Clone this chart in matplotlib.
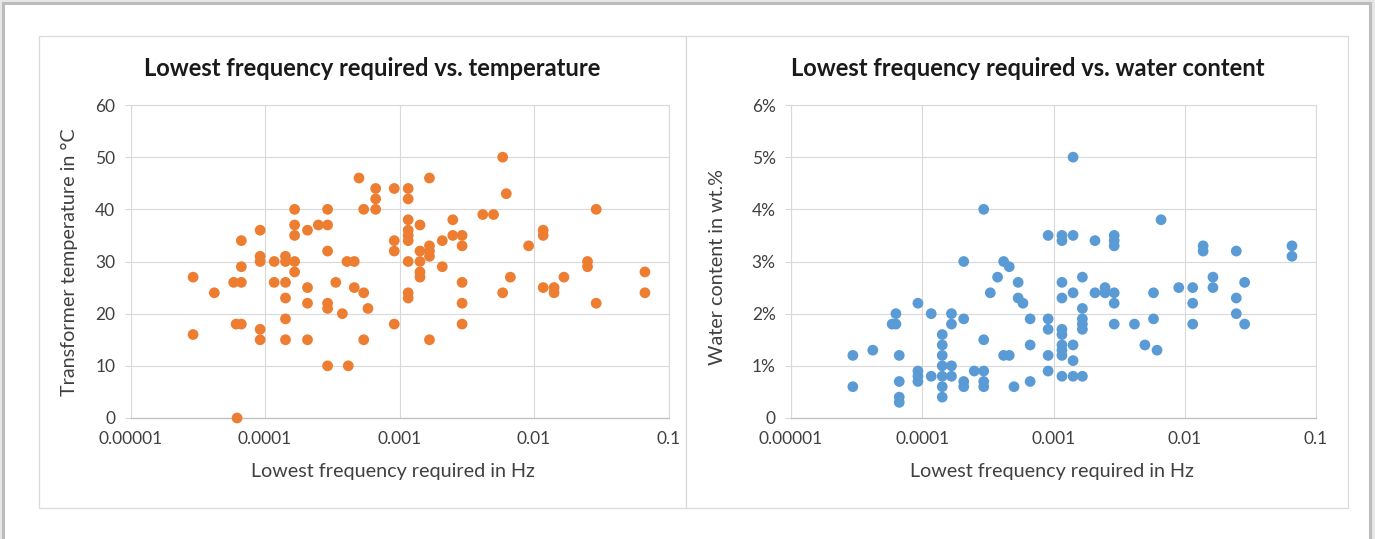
import matplotlib.pyplot as plt
from matplotlib.patches import Rectangle
from matplotlib.ticker import NullLocator

# left chart: lowest frequency (Hz) vs transformer temperature (C)
freq_temp = [5.0e-4, 6.65e-4, 6.65e-4, 5.42e-4, 6.65e-4, 9.14e-4, 1.16e-3, 1.16e-3,
             1.66e-4, 2.92e-4, 1.66e-4, 1.66e-4, 2.07e-4, 2.49e-4, 2.92e-4, 9.2e-5,
             6.67e-5, 2.92e-4, 9.14e-4, 9.14e-4, 9.2e-5, 9.2e-5, 1.17e-4, 1.42e-4,
             1.42e-4, 1.66e-4, 1.66e-4, 4.07e-4, 4.61e-4, 1.16e-3, 2.92e-5, 5.85e-5,
             6.67e-5, 6.67e-5, 1.17e-4, 1.42e-4, 2.07e-4, 3.36e-4, 4.61e-4, 5.42e-4,
             4.20e-5, 1.42e-4, 2.07e-4, 2.92e-4, 2.92e-4, 3.76e-4, 5.83e-4, 1.16e-3,
             1.16e-3, 9.14e-4, 1.42e-4, 2.92e-5, 6.1e-5, 6.67e-5, 9.2e-5, 9.2e-5,
             1.42e-4, 2.07e-4, 5.42e-4, 2.92e-4, 4.16e-4, 6.2e-5,
             5.85e-3, 1.67e-3, 6.22e-3, 2.9e-2, 1.16e-3, 1.42e-3, 2.49e-3, 4.16e-3,
             5.0e-3, 1.16e-3, 1.16e-3, 1.16e-3, 2.49e-3, 2.92e-3, 2.08e-3, 2.92e-3,
             1.67e-3, 1.42e-3, 1.67e-3, 1.67e-3, 9.12e-3, 1.17e-2, 1.17e-2, 1.42e-3,
             2.08e-3, 1.42e-3, 1.42e-3, 2.5e-2, 2.5e-2, 6.68e-2, 6.68e-2, 2.92e-3,
             6.67e-3, 5.85e-3, 1.17e-2, 1.41e-2, 1.41e-2, 1.67e-2, 2.9e-2, 2.92e-3,
             2.92e-3, 1.67e-3]
temp_c = [46, 44, 42, 40, 40, 44, 44, 42,
          40, 40, 37, 35, 36, 37, 37, 36,
          34, 32, 34, 32, 31, 30, 30, 31,
          30, 30, 28, 30, 30, 30, 27, 26,
          26, 29, 26, 26, 25, 26, 25, 24,
          24, 23, 22, 22, 21, 20, 21, 24,
          23, 18, 19, 16, 18, 18, 17, 15,
          15, 15, 15, 10, 10, 0,
          50, 46, 43, 40, 38, 37, 38, 39,
          39, 36, 35, 34, 35, 35, 34, 33,
          33, 32, 32, 31, 33, 36, 35, 30,
          29, 28, 27, 30, 29, 28, 24, 26,
          27, 24, 25, 25, 24, 27, 22, 22,
          18, 15]

# right chart: lowest frequency (Hz) vs water content (wt.%)
freq_water = [2.96e-5, 2.96e-5, 4.2e-5, 6.3e-5, 5.9e-5, 6.3e-5, 6.68e-5, 6.68e-5,
              6.68e-5, 6.68e-5, 9.27e-5, 9.27e-5, 9.27e-5, 9.27e-5, 1.17e-4, 1.17e-4,
              1.42e-4, 1.42e-4, 1.42e-4, 1.42e-4, 1.42e-4, 1.42e-4, 1.42e-4, 1.67e-4,
              1.67e-4, 1.67e-4, 1.67e-4, 2.07e-4, 2.07e-4, 2.07e-4, 2.07e-4, 2.49e-4,
              2.94e-4, 2.94e-4, 2.94e-4, 2.94e-4, 2.94e-4, 3.3e-4, 3.75e-4, 4.17e-4,
              4.6e-4, 4.17e-4, 4.6e-4, 5.0e-4, 5.38e-4, 5.38e-4, 5.85e-4, 6.64e-4,
              6.64e-4, 6.64e-4, 9.1e-4, 9.1e-4, 9.1e-4, 9.1e-4, 9.1e-4, 1.16e-3,
              1.16e-3, 1.41e-3, 1.41e-3, 1.16e-3, 1.16e-3, 1.41e-3, 1.66e-3, 1.66e-3,
              1.66e-3, 1.66e-3, 1.66e-3, 1.16e-3, 1.16e-3, 1.16e-3, 1.16e-3, 1.16e-3,
              1.41e-3, 1.41e-3, 1.16e-3, 1.41e-3, 1.66e-3, 2.07e-3, 2.07e-3, 2.47e-3,
              2.47e-3, 2.9e-3, 2.9e-3, 2.9e-3, 2.9e-3, 2.9e-3, 2.9e-3, 4.14e-3,
              4.97e-3, 5.78e-3, 5.78e-3, 6.15e-3, 6.6e-3, 9.0e-3, 1.15e-2, 1.15e-2,
              1.15e-2, 1.38e-2, 1.38e-2, 1.64e-2, 1.64e-2, 2.47e-2, 2.47e-2, 2.47e-2,
              2.86e-2, 2.86e-2, 6.56e-2, 6.56e-2]
water_pct = [1.2, 0.6, 1.3, 2.0, 1.8, 1.8, 1.2, 0.7,
             0.4, 0.3, 2.2, 0.9, 0.8, 0.7, 2.0, 0.8,
             1.6, 1.4, 1.2, 1.0, 0.8, 0.6, 0.4, 2.0,
             1.8, 1.0, 0.8, 3.0, 1.9, 0.7, 0.6, 0.9,
             0.9, 0.7, 0.6, 4.0, 1.5, 2.4, 2.7, 3.0,
             2.9, 1.2, 1.2, 0.6, 2.6, 2.3, 2.2, 1.9,
             1.4, 0.7, 3.5, 1.9, 1.7, 1.2, 0.9, 3.5,
             3.4, 3.5, 5.0, 2.6, 2.3, 2.4, 2.7, 2.1,
             1.9, 1.8, 1.7, 1.7, 1.6, 1.4, 1.3, 1.2,
             1.4, 1.1, 0.8, 0.8, 0.8, 3.4, 2.4, 2.5,
             2.4, 3.5, 3.4, 3.3, 2.4, 2.2, 1.8, 1.8,
             1.4, 2.4, 1.9, 1.3, 3.8, 2.5, 2.5, 2.2,
             1.8, 3.3, 3.2, 2.7, 2.5, 3.2, 2.3, 2.0,
             2.6, 1.8, 3.3, 3.1]

freq_ticks = [1e-5, 1e-4, 1e-3, 1e-2, 1e-1]
freq_labels = ["0.00001", "0.0001", "0.001", "0.01", "0.1"]
temp_ticks = [0, 10, 20, 30, 40, 50, 60]
water_ticks = [0, 1, 2, 3, 4, 5, 6]
water_labels = ["0", "1%", "2%", "3%", "4%", "5%", "6%"]

W, H = 1375, 539
plt.rcParams['font.family'] = ['Lato', 'DejaVu Sans']

fig = plt.figure(figsize=(W / 100, H / 100), dpi=100)
fig.patch.set_facecolor('#e9e7e6')

def px(x, y):
    return x / W, 1 - y / H

# outer frame and the two chart panels (behind the axes)
fig.patches.append(Rectangle(px(3, 545), 1367 / W, 542 / H, transform=fig.transFigure,
                             facecolor='white', edgecolor='#bcbcbc', lw=2.2, zorder=-2))
for x0, x1 in [(39, 686), (686, 1348)]:
    fig.patches.append(Rectangle(px(x0, 508), (x1 - x0) / W, 472 / H, transform=fig.transFigure,
                                 facecolor='white', edgecolor='#dadada', lw=0.9, zorder=-1))

grid_c = '#d9d9d9'
text_c = '#404040'

def make_axes(left_px, right_px):
    l, b = px(left_px, 418)
    ax = fig.add_axes([l, b, (right_px - left_px) / W, 313 / H])
    ax.set_facecolor('none')
    ax.set_xscale('log')
    ax.set_xlim(1e-5, 1e-1)
    ax.set_xticks(freq_ticks)
    ax.set_xticklabels(freq_labels)
    ax.xaxis.set_minor_locator(NullLocator())
    ax.grid(True, color=grid_c, lw=0.8)
    ax.set_axisbelow(True)
    for s in ['left', 'right', 'top']:
        ax.spines[s].set_color(grid_c)
        ax.spines[s].set_linewidth(0.8)
    ax.spines['bottom'].set_color('#bfbfbf')
    ax.spines['bottom'].set_linewidth(0.9)
    ax.tick_params(axis='x', length=0, pad=9, labelsize=12.5, labelcolor=text_c)
    ax.tick_params(axis='y', length=4, color=grid_c, pad=7, labelsize=12.5, labelcolor=text_c)
    return ax

ax1 = make_axes(130.5, 668.5)
ax1.scatter(freq_temp, temp_c, s=60, color='#ED7D31', edgecolors='none', zorder=3, clip_on=False)
ax1.set_ylim(0, 60)
ax1.set_yticks(temp_ticks)

ax2 = make_axes(791, 1316)
ax2.scatter(freq_water, water_pct, s=60, color='#5B9BD5', edgecolors='none', zorder=3, clip_on=False)
ax2.set_ylim(0, 6)
ax2.set_yticks(water_ticks)
ax2.set_yticklabels(water_labels)

# titles and axis labels
fig.text(*px(372, 68), "Lowest frequency required vs. temperature", ha='center', va='center',
         fontsize=17.1, fontweight='bold', color='#1a1a1a')
fig.text(*px(1028, 68), "Lowest frequency required vs. water content", ha='center', va='center',
         fontsize=17.1, fontweight='bold', color='#1a1a1a')
fig.text(*px(393, 472), "Lowest frequency required in Hz", ha='center', va='center',
         fontsize=14.2, color=text_c)
fig.text(*px(1052, 472), "Lowest frequency required in Hz", ha='center', va='center',
         fontsize=14.2, color=text_c)
fig.text(*px(69, 262), "Transformer temperature in °C", ha='center', va='center',
         rotation=90, fontsize=14.2, color=text_c)
fig.text(*px(717, 267), "Water content in wt.%", ha='center', va='center',
         rotation=90, fontsize=14.2, color=text_c)

plt.savefig('out.png', dpi=100, facecolor=fig.get_facecolor())
